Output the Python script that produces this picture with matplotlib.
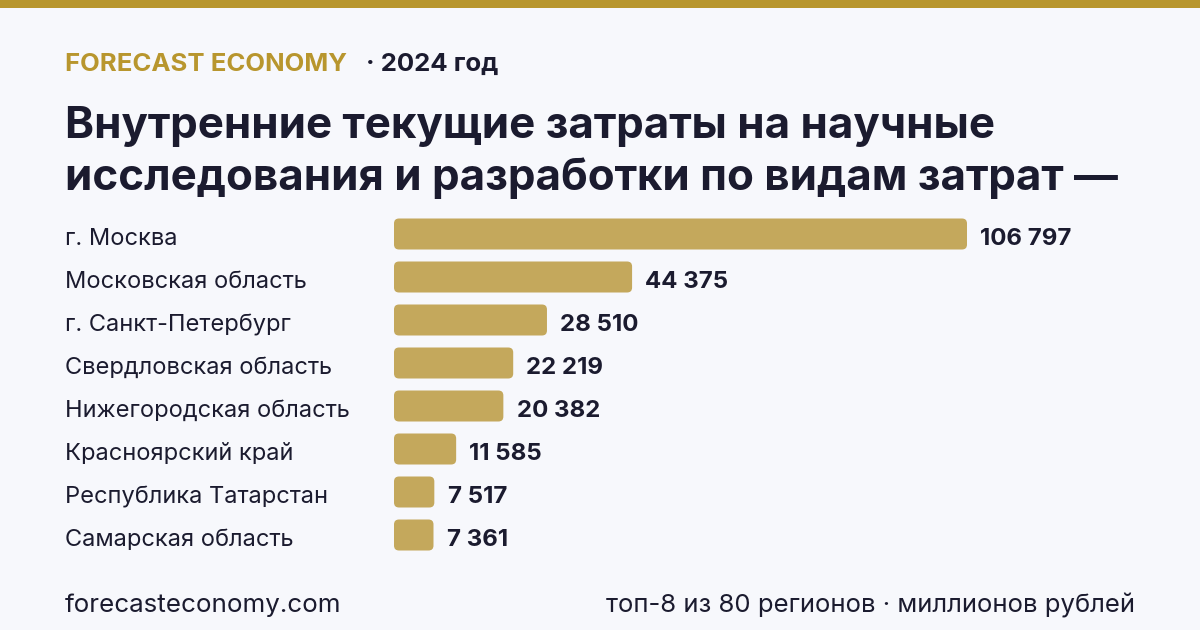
import matplotlib.pyplot as plt
from matplotlib.patches import FancyBboxPatch, Rectangle

plt.rcParams["font.family"] = ["Inter", "DejaVu Sans"]

regions = [
    "г. Москва",
    "Московская область",
    "г. Санкт-Петербург",
    "Свердловская область",
    "Нижегородская область",
    "Красноярский край",
    "Республика Татарстан",
    "Самарская область",
]
values = [106797, 44375, 28510, 22219, 20382, 11585, 7517, 7361]

BG = "#f7f8fc"
GOLD = "#b8962e"
BAR = "#c4a85c"
DARK = "#1b1b2f"

W, H = 1200, 630
fig = plt.figure(figsize=(W / 100, H / 100), dpi=100, facecolor=BG)


def fy(y):
    return 1 - y / H


# top band
fig.patches.append(Rectangle((0, fy(8)), 1, 8 / H, transform=fig.transFigure,
                             facecolor=GOLD, edgecolor="none"))

fig.text(65 / W, fy(71), "FORECAST ECONOMY", color=GOLD, fontsize=18.5,
         fontweight="bold", va="baseline")
fig.text(366 / W, fy(71), "· 2024 год", color=DARK, fontsize=18.5,
         fontweight="bold", va="baseline")
fig.text(65 / W, fy(138), "Внутренние текущие затраты на научные",
         color=DARK, fontsize=31.6, fontweight="bold", va="baseline")
fig.text(65 / W, fy(190), "исследования и разработки по видам затрат —",
         color=DARK, fontsize=31.6, fontweight="bold", va="baseline")

# bar axes: 43 px per row, bars start at x=394
row_px = 43
ax_left, ax_w = 394, 700
ax_top = 234 - row_px / 2
ax_h = row_px * len(values)
ax = fig.add_axes([ax_left / W, fy(ax_top + ax_h), ax_w / W, ax_h / H])
ax.set_facecolor("none")
xmax = values[0] * ax_w / 573
ax.set_xlim(0, xmax)
ax.set_ylim(len(values) - 0.5, -0.5)
ax.axis("off")

xpx = xmax / ax_w
ypx = len(values) / ax_h
bar_h = 31 / row_px
for i, (name, v) in enumerate(zip(regions, values)):
    ax.add_patch(FancyBboxPatch(
        (0, i - bar_h / 2), v, bar_h,
        boxstyle=f"round,pad=0,rounding_size={5 * xpx}",
        mutation_aspect=ypx / xpx,
        facecolor=BAR, edgecolor="none"))
    ax.annotate(f"{v:,}".replace(",", " "), (v, i), xytext=(9.5, -8),
                textcoords="offset points", va="baseline", ha="left",
                fontsize=17.3, fontweight="bold", color=DARK)
    ax.annotate(name, (65 / W, i), xycoords=("figure fraction", "data"),
                xytext=(0, -8), textcoords="offset points",
                va="baseline", ha="left", fontsize=17, color=DARK)

fig.text(65 / W, fy(612), "forecasteconomy.com", color=DARK, fontsize=18.7,
         va="baseline")
fig.text(1135 / W, fy(612), "топ-8 из 80 регионов · миллионов рублей",
         color=DARK, fontsize=18.5, va="baseline", ha="right")

fig.savefig("out.png", dpi=100, facecolor=BG)
